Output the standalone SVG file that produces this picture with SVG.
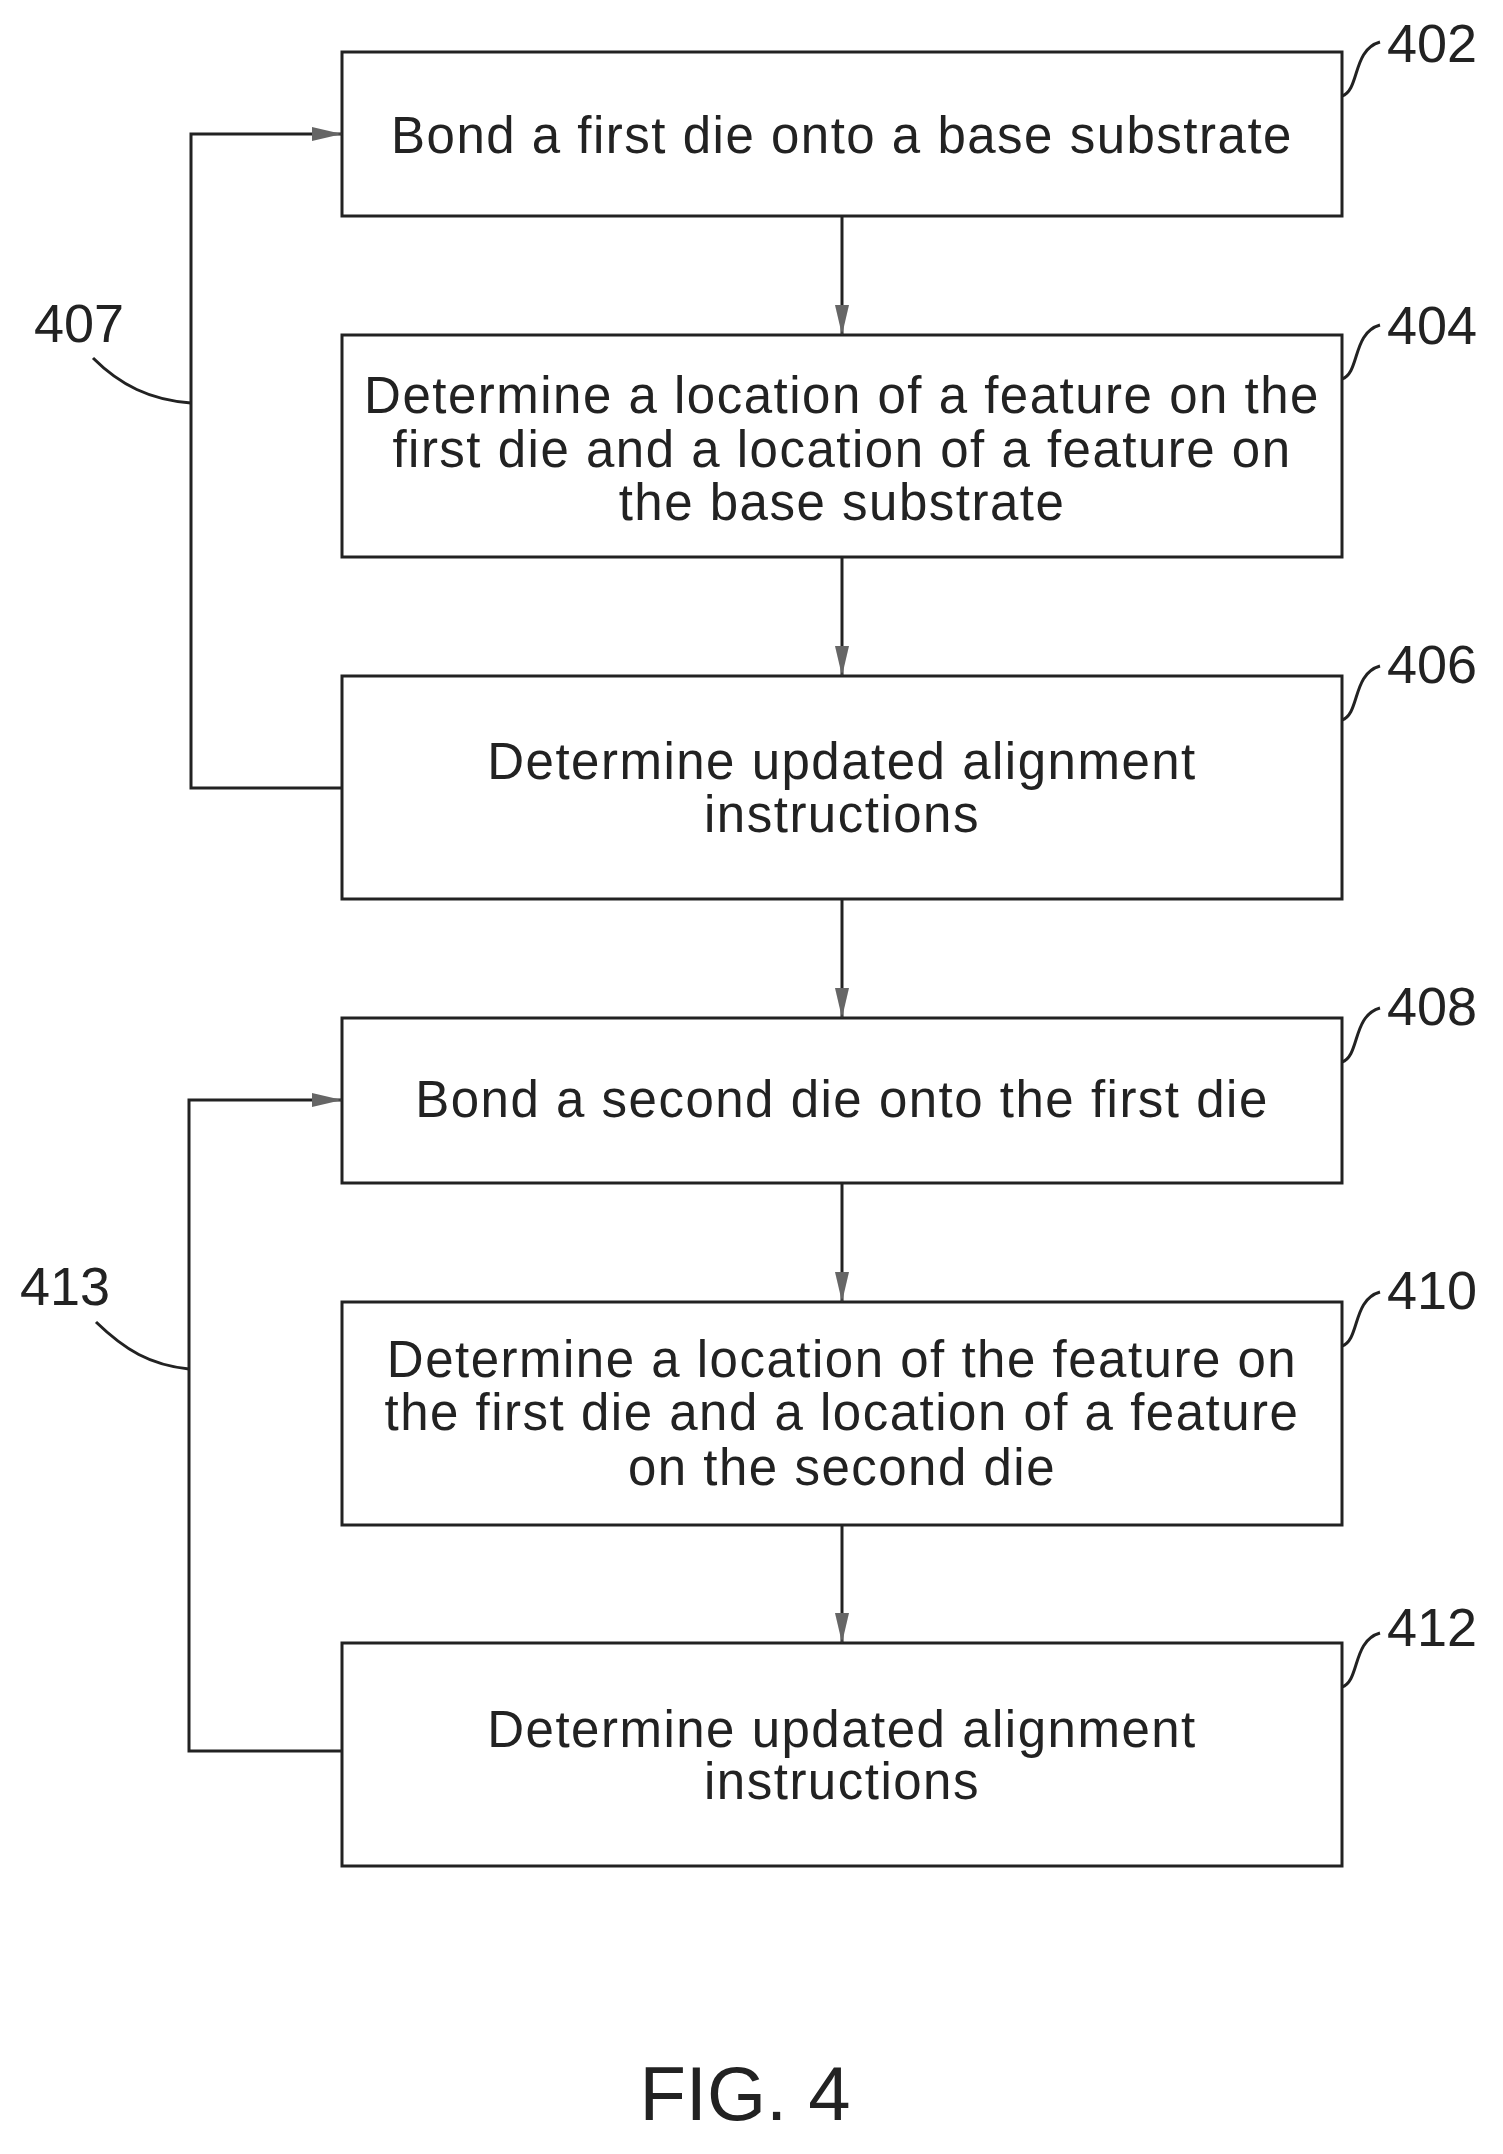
<svg xmlns="http://www.w3.org/2000/svg" width="1503" height="2154" viewBox="0 0 1503 2154">
<style>
.b{fill:#fff;stroke:#222;stroke-width:3}
.t{font-family:"Liberation Sans",Arial,sans-serif;font-size:51px;letter-spacing:1.5px;fill:#222;text-anchor:middle}
.l{font-family:"Liberation Sans",Arial,sans-serif;font-size:54px;fill:#222}
.c{fill:none;stroke:#222;stroke-width:3}
</style>
<defs><marker id="ad" markerWidth="30" markerHeight="14" refX="30" refY="7" orient="auto" markerUnits="userSpaceOnUse"><path d="M0,0 L30,7 L0,14 Z" fill="#666"/></marker></defs>
<g id="n402"><rect class="b" x="342" y="52" width="1000" height="164"/><text class="t" x="842" y="153">Bond a first die onto a base substrate</text><path class="c" d="M1342,96 C1360,90 1352,50 1380,42"/><text class="l" x="1387" y="62">402</text></g>
<g id="n404"><rect class="b" x="342" y="335" width="1000" height="222"/><text class="t" x="842" y="413">Determine a location of a feature on the</text><text class="t" x="842" y="467">first die and a location of a feature on</text><text class="t" x="842" y="520">the base substrate</text><path class="c" d="M1342,379 C1360,373 1352,333 1380,325"/><text class="l" x="1387" y="344">404</text></g>
<g id="n406"><rect class="b" x="342" y="676" width="1000" height="223"/><text class="t" x="842" y="779">Determine updated alignment</text><text class="t" x="842" y="832">instructions</text><path class="c" d="M1342,720 C1360,714 1352,674 1380,666"/><text class="l" x="1387" y="683">406</text></g>
<g id="n408"><rect class="b" x="342" y="1018" width="1000" height="165"/><text class="t" x="842" y="1117">Bond a second die onto the first die</text><path class="c" d="M1342,1062 C1360,1056 1352,1016 1380,1008"/><text class="l" x="1387" y="1025">408</text></g>
<g id="n410"><rect class="b" x="342" y="1302" width="1000" height="223"/><text class="t" x="842" y="1377">Determine a location of the feature on</text><text class="t" x="842" y="1430">the first die and a location of a feature</text><text class="t" x="842" y="1485">on the second die</text><path class="c" d="M1342,1346 C1360,1340 1352,1300 1380,1292"/><text class="l" x="1387" y="1309">410</text></g>
<g id="n412"><rect class="b" x="342" y="1643" width="1000" height="223"/><text class="t" x="842" y="1747">Determine updated alignment</text><text class="t" x="842" y="1799">instructions</text><path class="c" d="M1342,1687 C1360,1681 1352,1641 1380,1633"/><text class="l" x="1387" y="1646">412</text></g>
<g id="connectors">
<path class="c" d="M842,216 V335" marker-end="url(#ad)"/>
<path class="c" d="M842,557 V676" marker-end="url(#ad)"/>
<path class="c" d="M842,899 V1018" marker-end="url(#ad)"/>
<path class="c" d="M842,1183 V1302" marker-end="url(#ad)"/>
<path class="c" d="M842,1525 V1643" marker-end="url(#ad)"/>
<path class="c" d="M342,788 H191 V134 H342" marker-end="url(#ad)"/>
<path class="c" d="M342,1751 H189 V1100 H342" marker-end="url(#ad)"/>
<path class="c" d="M93,358 C120,385 150,400 191,403"/>
<path class="c" d="M96,1322 C125,1350 150,1365 189,1369"/>
</g>
<text class="l" x="34" y="342">407</text>
<text class="l" x="20" y="1305">413</text>
<text x="745" y="2120" style="font-family:'Liberation Sans',Arial,sans-serif;font-size:76px;fill:#222;text-anchor:middle">FIG. 4</text>
</svg>
